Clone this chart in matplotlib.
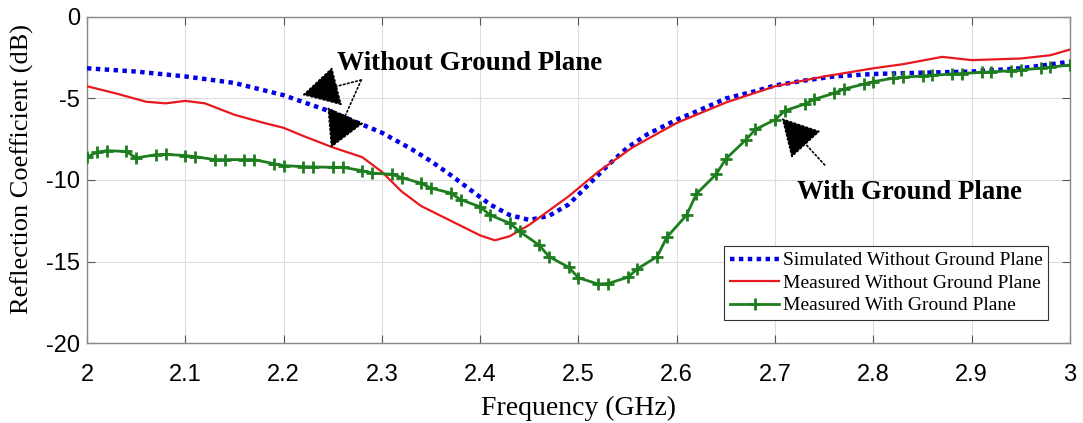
import numpy as np
import matplotlib.pyplot as plt

plt.rcParams['axes.unicode_minus'] = False

# simulated, without ground plane (blue dotted)
sim_f = [2.00, 2.05, 2.10, 2.15, 2.20, 2.25, 2.28, 2.30, 2.33, 2.35, 2.37, 2.39,
         2.41, 2.43, 2.45, 2.47, 2.49, 2.51, 2.53, 2.55, 2.57, 2.60, 2.62, 2.65,
         2.68, 2.70, 2.73, 2.76, 2.80, 2.85, 2.90, 2.95, 3.00]
sim_db = [-3.15, -3.35, -3.65, -4.05, -4.8, -5.85, -6.6, -7.1, -8.1, -8.85, -9.7, -10.6,
          -11.5, -12.15, -12.45, -12.2, -11.5, -10.3, -9.1, -8.0, -7.2, -6.3, -5.8, -5.0,
          -4.55, -4.2, -3.9, -3.65, -3.5, -3.42, -3.35, -3.15, -2.75]

# measured, without ground plane (red)
meas_f = [2.00, 2.03, 2.06, 2.08, 2.10, 2.12, 2.15, 2.18, 2.20, 2.22, 2.25, 2.28,
          2.30, 2.32, 2.34, 2.37, 2.40, 2.415, 2.43, 2.45, 2.49, 2.52, 2.555, 2.60,
          2.65, 2.70, 2.75, 2.80, 2.83, 2.87, 2.90, 2.95, 2.98, 3.00]
meas_db = [-4.25, -4.7, -5.2, -5.3, -5.15, -5.3, -6.0, -6.5, -6.8, -7.3, -8.0, -8.6,
           -9.5, -10.7, -11.6, -12.5, -13.4, -13.7, -13.45, -12.75, -11.0, -9.5, -8.0, -6.5,
           -5.25, -4.25, -3.65, -3.15, -2.9, -2.45, -2.65, -2.55, -2.35, -2.0]

# measured, with ground plane (green, + markers)
gp_f = [2.00, 2.01, 2.02, 2.04, 2.05, 2.07, 2.08, 2.10, 2.11, 2.13, 2.14, 2.16, 2.17,
        2.19, 2.20, 2.22, 2.23, 2.25, 2.26, 2.28, 2.29, 2.31, 2.32, 2.34, 2.35, 2.37,
        2.38, 2.40, 2.41, 2.43, 2.44, 2.46, 2.47, 2.49, 2.50, 2.52, 2.53, 2.55, 2.56,
        2.58, 2.59, 2.61, 2.62, 2.64, 2.65, 2.67, 2.68, 2.70, 2.71, 2.73, 2.74, 2.76,
        2.77, 2.79, 2.80, 2.82, 2.83, 2.85, 2.86, 2.88, 2.89, 2.91, 2.92, 2.94, 2.95,
        2.97, 2.98, 3.00]
gp_db = [-8.6, -8.3, -8.2, -8.25, -8.65, -8.45, -8.43, -8.5, -8.57, -8.75, -8.75, -8.75, -8.75,
         -9.0, -9.12, -9.18, -9.2, -9.22, -9.22, -9.43, -9.58, -9.65, -9.85, -10.2, -10.5, -10.8,
         -11.2, -11.65, -12.15, -12.65, -13.15, -14.0, -14.7, -15.35, -16.0, -16.38, -16.35, -15.97, -15.45,
         -14.7, -13.5, -12.15, -10.85, -9.65, -8.7, -7.55, -6.9, -6.3, -5.75, -5.35, -5.05, -4.68,
         -4.42, -4.13, -3.97, -3.76, -3.7, -3.62, -3.58, -3.5, -3.47, -3.4, -3.37, -3.3, -3.25,
         -3.15, -3.08, -2.95]

xticks = [2, 2.1, 2.2, 2.3, 2.4, 2.5, 2.6, 2.7, 2.8, 2.9, 3]
xtick_labels = ['2', '2.1', '2.2', '2.3', '2.4', '2.5', '2.6', '2.7', '2.8', '2.9', '3']
yticks = [-20, -15, -10, -5, 0]

serif = ['Liberation Serif', 'DejaVu Serif']
sans = ['Liberation Sans Narrow', 'Liberation Sans', 'DejaVu Sans']

fig = plt.figure(figsize=(10.83, 4.23), dpi=100)
ax = fig.add_axes([0.0803, 0.189, 0.9077, 0.771])

ax.plot(sim_f, sim_db, color='#0000e6', lw=3.2, dashes=(1, 1),
        dash_capstyle='butt', label='Simulated Without Ground Plane', zorder=3)
ax.plot(meas_f, meas_db, color='#e8191e', lw=1.6,
        label='Measured Without Ground Plane', zorder=3)
ax.plot(gp_f, gp_db, color='#1e7d1e', lw=2, marker='+', ms=9, mew=2,
        label='Measured With Ground Plane', zorder=4)

ax.set_xlim(2, 3)
ax.set_ylim(-20, 0)
ax.set_xticks(xticks)
ax.set_xticklabels(xtick_labels)
ax.set_yticks(yticks)
for lab in ax.get_xticklabels() + ax.get_yticklabels():
    lab.set_family(sans)
    lab.set_fontsize(17)
ax.tick_params(direction='in', top=True, right=True, length=6, width=0.8,
               color='#555555')
ax.tick_params(axis='x', pad=15)
ax.tick_params(axis='y', pad=5)
ax.grid(True, color='#dddddd', lw=0.8)
ax.set_axisbelow(True)
for s in ax.spines.values():
    s.set_color('#888888')
    s.set_linewidth(1.0)

ax.set_xlabel('Frequency (GHz)', family=serif, fontsize=20, labelpad=7)
ax.set_ylabel('Reflection Coefficient (dB)', family=serif, fontsize=19)
ax.yaxis.set_label_coords(-0.054, 0.535)

leg = ax.legend(loc='lower right', bbox_to_anchor=(0.978, 0.07), prop={'family': serif, 'size': 14},
                fancybox=False, edgecolor='#333333', framealpha=1, borderpad=0.3,
                handlelength=2.5, handletextpad=0.2, labelspacing=0.25, borderaxespad=0)
leg.get_frame().set_linewidth(0.8)

# annotations
ax.text(2.389, -2.85, 'Without Ground Plane', family=serif, fontsize=19.5,
        fontweight='bold', ha='center', va='center')
ax.text(2.837, -10.75, 'With Ground Plane', family=serif, fontsize=19.3,
        fontweight='bold', ha='center', va='center')
arrow = dict(arrowstyle='-|>,head_length=1.0,head_width=0.55', color='black',
             lw=1.2, linestyle=(0, (1, 1.5)), mutation_scale=24, shrinkA=0, shrinkB=0)
ax.annotate('', xy=(2.219, -4.79), xytext=(2.279, -3.87), arrowprops=arrow)
ax.annotate('', xy=(2.248, -8.04), xytext=(2.279, -3.87), arrowprops=arrow)
ax.annotate('', xy=(2.7067, -6.2), xytext=(2.7505, -9.08), arrowprops=arrow)

fig.savefig('out.png', dpi=100)
